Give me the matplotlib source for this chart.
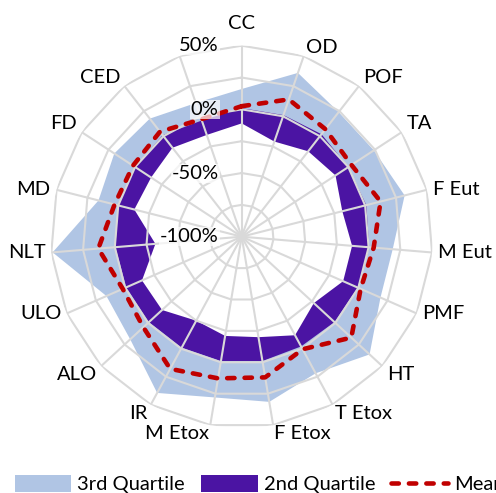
import numpy as np
import matplotlib
matplotlib.use("Agg")
import matplotlib.pyplot as plt
from matplotlib.patches import Patch
from matplotlib.lines import Line2D

# categories (last spoke has no name in the source chart)
categories = ['CC', 'OD', 'POF', 'TA', 'F Eut', 'M Eut', 'PMF', 'HT', 'T Etox',
              'F Etox', 'M Etox', 'IR', 'ALO', 'ULO', 'NLT', 'MD', 'FD', 'CED', '']
# values in %
q3 = [16, 36, 24, 24, 32, 19, 19, 36.5, 22, 31.5, 28, 39.5, 19, 16, 49, 16, 19.5, 17.5, 11]
q2 = [1, 1, 2, 0, 1, 0.5, -0.5, -1, -2, -1, -1, -1, -1, -1, -0.5, 0, 0, 1, -3.5]
q1 = [-11, -21, -15, -12, -18.5, -13, -13, -23, -12, -20, -21, -25, -15, -14.5, -32, -13, -15, -11.5, -15.5]
mean = [2.5, 14, 7, 3, 12.5, 4, 2, 17, 0.5, 12, 12.8, 18, 5, 2, 13, 3, 2, 4.5, -2.5]
ring_levels = [-75, -50, -25, 0, 25, 50]
tick_levels = [50, 0, -50, -100]

plt.rcParams['font.family'] = ['Lato', 'DejaVu Sans']
FS = 14.5

c_q3 = '#B0C5E4'
c_q2 = '#4B14A3'
c_mean = '#C00000'
c_grid = '#D9D9D9'
mean_ls = (0, (1.6, 2.2))

n = len(categories)
theta = np.arange(n) * 2 * np.pi / n
tc = np.append(theta, theta[0])


def closed(v):
    return np.append(v, v[0])


fig = plt.figure(figsize=(4.96, 4.93), dpi=100)
W, H = 496, 493
cx, cy, R = 241.7, 236.7, 191
ax = fig.add_axes([(cx - R) / W, (H - cy - R) / H, 2 * R / W, 2 * R / H], projection='polar')
ax.set_theta_zero_location('N')
ax.set_theta_direction(-1)
ax.set_ylim(-100, 50)
ax.set_axis_off()

# filled series, drawn from the centre like Excel's filled radar
ax.fill(tc, closed(q3), color=c_q3, lw=0, zorder=1)
ax.fill(tc, closed(q2), color=c_q2, lw=0, zorder=2)
ax.fill(tc, closed(q1), color='white', lw=0, zorder=3)

# polygon grid
for lv in ring_levels:
    ax.plot(tc, [lv] * (n + 1), color=c_grid, lw=1.5, zorder=4)
for t in theta:
    ax.plot([t, t], [-100, 50], color=c_grid, lw=1.5, zorder=4)

ax.plot(tc, closed(mean), color=c_mean, lw=3.3, ls=mean_ls,
        dash_capstyle='round', zorder=5)

# value axis labels
for lv in tick_levels:
    ax.annotate(f'{lv}%', xy=(0, lv), xytext=(-23, 0), textcoords='offset pixels',
                ha='right', va='center', fontsize=FS, zorder=6,
                bbox=dict(boxstyle='square,pad=0.05', fc='white', ec='none', alpha=0.7))

# category labels
for t, name in zip(theta, categories):
    s, c = np.sin(t), np.cos(t)
    if abs(s) < 0.05:
        ha, off = 'center', 14
    else:
        ha, off = ('left' if s > 0 else 'right'), 6
    if c > 0.5:
        va = 'bottom'
    elif c < -0.5:
        va = 'top'
    else:
        va = 'center'
    ax.annotate(name, xy=(t, 50), xytext=(off * s, off * c if abs(s) < 0.05 else 0),
                textcoords='offset pixels', ha=ha, va=va, fontsize=FS,
                annotation_clip=False)

handles = [Patch(facecolor=c_q3), Patch(facecolor=c_q2),
           Line2D([0], [0], color=c_mean, lw=3.3, ls=mean_ls, dash_capstyle='round')]
fig.legend(handles, ['3rd Quartile', '2nd Quartile', 'Mean'], ncol=3, frameon=False,
           loc='center left', bbox_to_anchor=(15 / W, (H - 484) / H), borderpad=0,
           borderaxespad=0, handlelength=2.8, handleheight=0.9, handletextpad=0.3,
           columnspacing=0.8, fontsize=FS)

fig.savefig('out.png', dpi=100)
